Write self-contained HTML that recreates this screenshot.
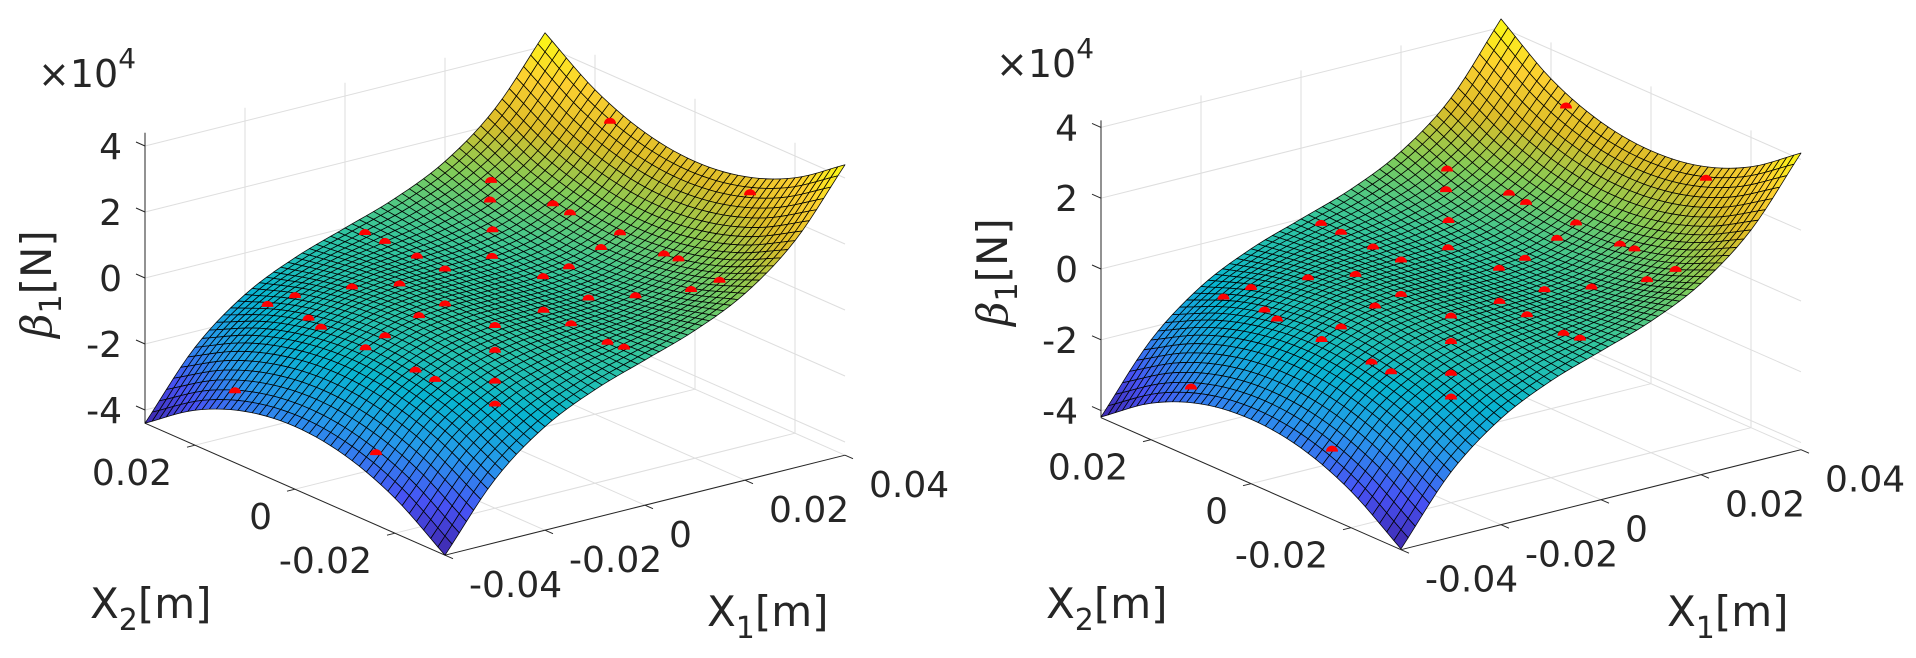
<!DOCTYPE html>
<html>
<head>
<meta charset="utf-8">
<style>
  html, body { margin: 0; padding: 0; background: #ffffff; }
  svg { display: block; }
  text { font-family: "DejaVu Sans", "Liberation Sans", sans-serif; fill: #262626; }
</style>
</head>
<body>
<svg id="fig" width="1916" height="658" viewBox="0 0 1916 658" xmlns="http://www.w3.org/2000/svg">
  <rect x="0" y="0" width="1916" height="658" fill="#ffffff"/>
  <g id="chart-left"></g>
  <g id="chart-right"></g>
</svg>
<script>
// ---------- data ----------
const x1Grid = [-0.04, -0.03, -0.02, -0.01, 0, 0.01, 0.02, 0.03, 0.04];
const x2Grid = [-0.03, -0.02, -0.01, 0, 0.01, 0.02, 0.03];
// rows follow x1Grid, columns follow x2Grid (units of 1e4 N)
const zLeft = [
  [-4.40, -3.34, -2.71, -2.50, -2.71, -3.34, -4.40],
  [-2.48, -1.68, -1.21, -1.05, -1.21, -1.68, -2.48],
  [-1.26, -0.73, -0.42, -0.31, -0.42, -0.73, -1.26],
  [-0.52, -0.25, -0.09, -0.04, -0.09, -0.25, -0.52],
  [ 0.00,  0.00,  0.00,  0.00,  0.00,  0.00,  0.00],
  [ 0.52,  0.25,  0.09,  0.04,  0.09,  0.25,  0.52],
  [ 1.26,  0.73,  0.42,  0.31,  0.42,  0.73,  1.26],
  [ 2.48,  1.68,  1.21,  1.05,  1.21,  1.68,  2.48],
  [ 4.40,  3.34,  2.71,  2.50,  2.71,  3.34,  4.40]
];
const zRight = [
  [-4.18, -3.17, -2.57, -2.38, -2.57, -3.17, -4.18],
  [-2.36, -1.60, -1.15, -1.00, -1.15, -1.60, -2.36],
  [-1.20, -0.69, -0.40, -0.29, -0.40, -0.69, -1.20],
  [-0.49, -0.24, -0.09, -0.04, -0.09, -0.24, -0.49],
  [ 0.00,  0.00,  0.00,  0.00,  0.00,  0.00,  0.00],
  [ 0.49,  0.24,  0.09,  0.04,  0.09,  0.24,  0.49],
  [ 1.20,  0.69,  0.40,  0.29,  0.40,  0.69,  1.20],
  [ 2.36,  1.60,  1.15,  1.00,  1.15,  1.60,  2.36],
  [ 4.18,  3.17,  2.57,  2.38,  2.57,  3.17,  4.24]
];
// measured sample points (red markers)
const mX1 = [0.040,0.040,0.0235,0.021,0.0275,0.028,0.001,0.001,0.017,0.030,0.026,0.0118,0.001,0.0298,0.0296,0.001,0.0194,0.0137,-0.0168,-0.011,0.0256,0.0229,-0.022,-0.0245,0.0132,0.0186,-0.0115,0.0023,-0.0182,-0.027,-0.0286,-0.0106,0.0012,-0.0255,-0.0291,-0.0157,0.0005,0.0012,-0.0277,-0.027,-0.0208,-0.0235,-0.040,-0.039];
const mX2 = [0.017,-0.011,0.0243,0.022,0.0159,0.013,0.027,0.023,0.0175,0.005,0.0048,0.0124,0.0166,-0.004,-0.0071,0.011,0.0046,0.0041,0.0118,0.0081,-0.0193,-0.0163,0.018,0.021,-0.0055,-0.0095,-0.0015,-0.0074,-0.003,0.0103,0.0062,-0.0106,-0.014,-0.0035,-0.0032,-0.0157,-0.022,-0.0246,-0.0118,-0.015,-0.0208,-0.0235,0.012,-0.0152];
const mZ  = [2.6,2.3,0.95,0.6,0.65,0.55,0.04,0.04,0.15,0.4,0.12,-0.12,0.02,0.37,0.43,0.0,-0.2,-0.25,0.08,0.2,0.75,0.37,-0.4,-0.77,-0.24,-0.11,0.25,-0.07,0.25,-0.38,-0.32,0.17,0.0,-0.05,-0.3,-0.05,0.0,0.0,-0.45,-0.55,-0.45,-0.86,-2.2,-2.3];
const x1Ticks = [-0.04, -0.02, 0, 0.02, 0.04];
const x1Labels = ['-0.04', '-0.02', '0', '0.02', '0.04'];
const x2Ticks = [-0.02, 0, 0.02];
const x2Labels = ['-0.02', '0', '0.02'];
const zTicks = [-4, -2, 0, 2, 4];
const zLabels = ['-4', '-2', '0', '2', '4'];

// ---------- helpers ----------
const NS = 'http://www.w3.org/2000/svg';
const parula = [
  [0.2422,0.1504,0.6603],[0.2810,0.3228,0.9579],[0.1540,0.5902,0.9218],
  [0.0297,0.7082,0.8163],[0.1938,0.7758,0.6251],[0.5044,0.7993,0.3480],
  [0.8634,0.7406,0.1596],[0.9892,0.8136,0.1885],[0.9769,0.9839,0.0805]
];
function cmap(t) {
  t = Math.max(0, Math.min(1, t));
  const p = t * (parula.length - 1);
  const i = Math.min(parula.length - 2, Math.floor(p));
  const f = p - i;
  const c = parula[i].map((v, k) => v + (parula[i + 1][k] - v) * f);
  return 'rgb(' + c.map(v => Math.round(v * 255)).join(',') + ')';
}
function cr(p0, p1, p2, p3, t) {
  return 0.5 * ((2 * p1) + (-p0 + p2) * t + (2 * p0 - 5 * p1 + 4 * p2 - p3) * t * t + (-p0 + 3 * p1 - 3 * p2 + p3) * t * t * t);
}
function rowVal(row, f) {
  const n = row.length;
  let i = Math.min(n - 2, Math.floor(f));
  const t = f - i;
  const g = k => k < 0 ? 2 * row[0] - row[1] : (k >= n ? 2 * row[n - 1] - row[n - 2] : row[k]);
  return cr(g(i - 1), g(i), g(i + 1), g(i + 2), t);
}
function zAt(table, fi, fj) {
  const col = table.map(r => rowVal(r, fj));
  return rowVal(col, fi);
}

function drawChart(gid, table, cfg) {
  const g = document.getElementById(gid);
  const P = (x1, x2, z) => [cfg.ox + 5000 * x1 - 5000 * x2, cfg.oy - 1250 * x1 - 2200 * x2 + cfg.cz * z];
  const x1min = x1Grid[0], x1max = x1Grid[x1Grid.length - 1];
  const x2min = x2Grid[0], x2max = x2Grid[x2Grid.length - 1];
  const zmin = cfg.zmin, zmax = cfg.zmax;

  function line(a, b, color, w, name) {
    const l = document.createElementNS(NS, 'line');
    l.setAttribute('x1', a[0].toFixed(2)); l.setAttribute('y1', a[1].toFixed(2));
    l.setAttribute('x2', b[0].toFixed(2)); l.setAttribute('y2', b[1].toFixed(2));
    l.setAttribute('stroke', color); l.setAttribute('stroke-width', w);
    
    
    g.appendChild(l);
    return l;
  }
  function text(x, y, s, anchor, size, name) {
    const t = document.createElementNS(NS, 'text');
    t.setAttribute('x', x.toFixed(1)); t.setAttribute('y', y.toFixed(1));
    t.setAttribute('text-anchor', anchor); t.setAttribute('font-size', size);
    t.textContent = s;
    
    
    g.appendChild(t);
    return t;
  }

  const GC = '#dedede';
  x1Ticks.forEach(t => line(P(t, x2min, zmin), P(t, x2max, zmin), GC, 1, 'floor-gridline-x1'));
  x2Ticks.forEach(t => line(P(x1min, t, zmin), P(x1max, t, zmin), GC, 1, 'floor-gridline-x2'));
  x1Ticks.forEach(t => line(P(t, x2max, zmin), P(t, x2max, zmax), GC, 1, 'back-wall-gridline-x1'));
  zTicks.forEach(t => line(P(x1min, x2max, t), P(x1max, x2max, t), GC, 1, 'back-wall-gridline-z'));
  x2Ticks.forEach(t => line(P(x1max, t, zmin), P(x1max, t, zmax), GC, 1, 'side-wall-gridline-x2'));
  zTicks.forEach(t => line(P(x1max, x2min, t), P(x1max, x2max, t), GC, 1, 'side-wall-gridline-z'));

  const AC = '#262626';
  line(P(x1min, x2max, zmin), P(x1min, x2max, zmax), AC, 1, 'z-axis-line');
  line(P(x1min, x2min, zmin), P(x1min, x2max, zmin), AC, 1, 'x2-axis-line');
  line(P(x1min, x2min, zmin), P(x1max, x2min, zmin), AC, 1, 'x1-axis-line');

  zTicks.forEach((t, i) => {
    const a = P(x1min, x2max, t);
    line(a, [a[0] - 9, a[1] - 4], AC, 1, 'z-tick');
    text(a[0] - 23, a[1] + 13, zLabels[i], 'end', 36, 'z-tick-label');
  });
  x2Ticks.forEach((t, i) => {
    const a = P(x1min, t, zmin);
    line(a, [a[0] - 8, a[1] + 2], AC, 1, 'x2-tick');
    text(a[0] - 23, a[1] + 40, x2Labels[i], 'end', 36, 'x2-tick-label');
  });
  x1Ticks.forEach((t, i) => {
    const a = P(t, x2min, zmin);
    line(a, [a[0] + 8, a[1] + 3.5], AC, 1, 'x1-tick');
    text(a[0] + 24, a[1] + 42, x1Labels[i], 'start', 36, 'x1-tick-label');
  });

  // surface
  const SUB = 7;
  const N1 = (x1Grid.length - 1) * SUB, N2 = (x2Grid.length - 1) * SUB;
  const pts = [];
  for (let a = 0; a <= N1; a++) {
    pts[a] = [];
    for (let b = 0; b <= N2; b++) {
      const x1 = x1min + (x1max - x1min) * a / N1;
      const x2 = x2min + (x2max - x2min) * b / N2;
      const z = zAt(table, a / SUB, b / SUB);
      pts[a][b] = { p: P(x1, x2, z), z: z, d: x1 / (x1max - x1min) + x2 / (x2max - x2min) };
    }
  }
  const quads = [];
  for (let a = 0; a < N1; a++) for (let b = 0; b < N2; b++) {
    const q = [pts[a][b], pts[a + 1][b], pts[a + 1][b + 1], pts[a][b + 1]];
    quads.push({ q: q, d: (q[0].d + q[2].d) / 2, z: (q[0].z + q[1].z + q[2].z + q[3].z) / 4 });
  }
  quads.sort((u, v) => v.d - u.d);
  const sg = document.createElementNS(NS, 'g');
  
  
  sg.setAttribute('stroke', '#000'); sg.setAttribute('stroke-width', '0.8'); sg.setAttribute('stroke-opacity', '0.95');
  sg.setAttribute('stroke-linejoin', 'round');
  g.appendChild(sg);
  quads.forEach(Q => {
    const poly = document.createElementNS(NS, 'polygon');
    poly.setAttribute('points', Q.q.map(o => o.p[0].toFixed(2) + ',' + o.p[1].toFixed(2)).join(' '));
    poly.setAttribute('fill', cmap((Q.z - cfg.cmin) / (cfg.cmax - cfg.cmin)));
    
    
    sg.appendChild(poly);
  });

  // markers
  const mg = document.createElementNS(NS, 'g');
  
  
  g.appendChild(mg);
  mX1.forEach((v, i) => {
    const c = P(v, mX2[i], mZ[i]);
    const m = document.createElementNS(NS, 'path');
    m.setAttribute('d', 'M' + (c[0] - 6).toFixed(2) + ',' + (c[1] + 3).toFixed(2) + ' a6,6 0 0 1 12,0 z');
    m.setAttribute('fill', '#ff0000');
    
    
    mg.appendChild(m);
  });

  const ex = text(cfg.expX, cfg.expY, '\u00d710', 'start', 38, 'z-exponent-label');
  const sup = document.createElementNS(NS, 'tspan');
  sup.setAttribute('font-size', '28'); sup.setAttribute('dy', '-19');
  sup.textContent = '4';
  ex.appendChild(sup);

  const yl = document.createElementNS(NS, 'text');
  yl.setAttribute('transform', 'translate(' + cfg.ylX + ',' + cfg.ylY + ') rotate(-90)');
  yl.setAttribute('text-anchor', 'middle'); yl.setAttribute('font-size', '42');
  
  
  yl.innerHTML = '<tspan font-family="DejaVu Serif, Liberation Serif, serif" font-style="italic">\u03b2</tspan><tspan font-size="30" dy="10">1</tspan><tspan dy="-10">[N]</tspan>';
  g.appendChild(yl);

  const x2t = text(cfg.x2tX, 618, '', 'start', 42, 'x2-axis-title');
  x2t.innerHTML = 'X<tspan font-size="30" dy="12">2</tspan><tspan dy="-12">[m]</tspan>';
  const x1t = text(cfg.x1tX, 626, '', 'start', 42, 'x1-axis-title');
  x1t.innerHTML = 'X<tspan font-size="30" dy="12">1</tspan><tspan dy="-12">[m]</tspan>';
}

drawChart('chart-left', zLeft, { ox: 495, oy: 294, cz: -33, zmin: -4.4, zmax: 4.4, cmin: -4.4, cmax: 4.4,
  expX: 38, expY: 87, ylX: 51, ylY: 284, x2tX: 90, x1tX: 707 });
drawChart('chart-right', zRight, { ox: 1451, oy: 285, cz: -35.4, zmin: -4.2, zmax: 4.2, cmin: -4.18, cmax: 4.24,
  expX: 996, expY: 77, ylX: 1007, ylY: 272, x2tX: 1046, x1tX: 1667 });
</script>
</body>
</html>
